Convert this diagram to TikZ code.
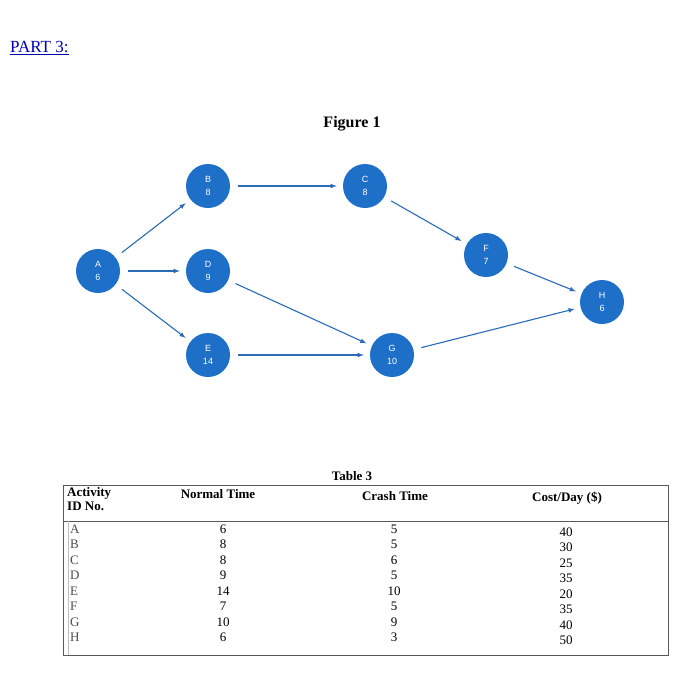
\documentclass[tikz,border=0pt]{standalone}
\usepackage{fontspec}
\setmainfont{Liberation Serif}
\newfontfamily\nodefont{Liberation Sans}
\definecolor{nodeblue}{HTML}{1E6FC8}
\definecolor{arrblue}{HTML}{2A6BB8}
\begin{document}
\begin{tikzpicture}[x=1pt,y=-1pt,
  act/.style={circle,fill=nodeblue,minimum size=44pt,inner sep=0pt,text=white,font=\nodefont\fontsize{9}{10}\selectfont,align=center},
  conn/.style={-latex,draw=arrblue,line width=1.1pt,shorten >=6pt,shorten <=8pt},
  cell/.style={font=\fontsize{13}{14}\selectfont,inner sep=0pt},
  hd/.style={font=\bfseries\fontsize{13}{14}\selectfont,inner sep=0pt}]
\fill[white] (0,0) rectangle (700,697);
\useasboundingbox (0,0) rectangle (700,697);
\node[text=blue!70!black,font=\fontsize{17}{19}\selectfont,anchor=west,inner sep=0pt] (title) at (10,48) {\underline{PART 3:}};
\node[font=\bfseries\fontsize{16}{18}\selectfont] (fig) at (352,124) {Figure 1};
\node[act] (A) at (98,271) {A\\[3pt]6};
\node[act] (B) at (208,186) {B\\[3pt]8};
\node[act] (C) at (365,186) {C\\[3pt]8};
\node[act] (D) at (208,271) {D\\[3pt]9};
\node[act] (E) at (208,355) {E\\[3pt]14};
\node[act] (F) at (486,255) {F\\[3pt]7};
\node[act] (G) at (392,355) {G\\[3pt]10};
\node[act] (H) at (602,302) {H\\[3pt]6};
\draw[conn] (A) -- (B);
\draw[conn] (A) -- (D);
\draw[conn] (A) -- (E);
\draw[conn] (B) -- (C);
\draw[conn] (C) -- (F);
\draw[conn] (D) -- (G);
\draw[conn] (E) -- (G);
\draw[conn] (F) -- (H);
\draw[conn] (G) -- (H);
\node[hd] (t3) at (352,476) {Table 3};
\draw[gray!70!black,line width=0.8pt] (63,485) rectangle (668,655);
\draw[gray!70!black,line width=0.8pt] (63,521) -- (668,521);
\draw[gray!50,line width=0.5pt] (68,521) -- (68,655);
\node[hd,anchor=north west,align=left] (h1) at (67,487) {Activity\\ID No.};
\node[hd] (h2) at (218,494) {Normal Time};
\node[hd] (h3) at (395,496) {Crash Time};
\node[hd] (h4) at (567,498) {Cost/Day (\$)};
\foreach \l/\n/\c/\d [count=\i from 0] in {A/6/5/40,B/8/5/30,C/8/6/25,D/9/5/35,E/14/10/20,F/7/5/35,G/10/9/40,H/6/3/50}{
  \node[cell,anchor=west,gray!60!black] (l\i) at (70,529+15.5*\i) {\l};
  \node[cell] (n\i) at (223,529+15.5*\i) {\n};
  \node[cell] (c\i) at (394,529+15.5*\i) {\c};
  \node[cell] (d\i) at (566,532+15.5*\i) {\d};
}
\end{tikzpicture}
\end{document}
